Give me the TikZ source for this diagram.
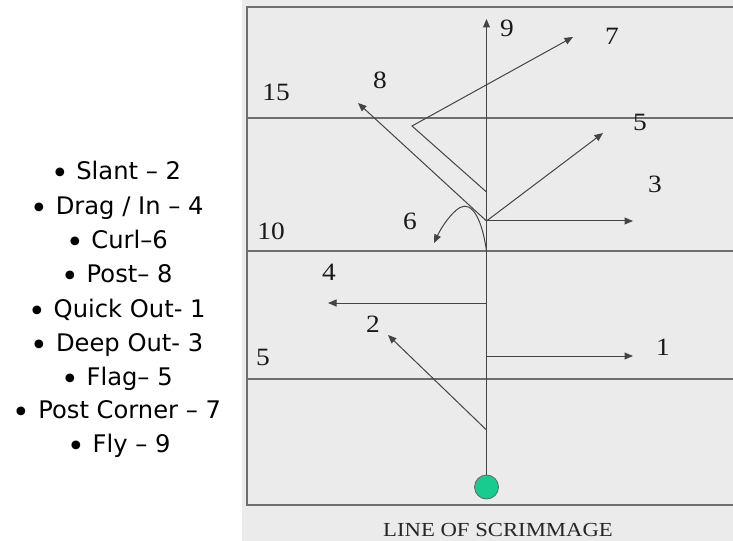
\documentclass[tikz,border=0pt]{standalone}
\usepackage{fontspec}
\setmainfont{Liberation Serif}
\newfontfamily\listfont{DejaVu Sans}
\usetikzlibrary{arrows.meta}
\definecolor{fieldbg}{HTML}{EBEBEB}
\definecolor{linegray}{HTML}{6E6E6E}
\definecolor{routegray}{HTML}{444444}
\definecolor{ballgreen}{HTML}{17CC8E}
\newcommand{\bul}{{\fontsize{30}{30}\selectfont\raisebox{-4bp}{•}}\ }
\begin{document}
\begin{tikzpicture}[x=1bp,y=-1bp,
  yard/.style={draw=linegray,line width=1.6bp},
  route/.style={draw=routegray,line width=1bp},
  arr/.style={route,-{Triangle[length=8.5bp,width=7bp]}},
  num/.style={font=\fontsize{25}{25}\selectfont,text=black!90,inner sep=0pt,xscale=1.1,transform shape},
  item/.style={font=\listfont\fontsize{24.3}{24.3}\selectfont,anchor=base,inner sep=0pt},
  ballst/.style={circle,fill=ballgreen,draw=black!60,line width=0.8bp,minimum size=24bp,inner sep=0pt}]
\useasboundingbox (0,0) rectangle (733,541);
\fill[fieldbg] (242,0) rectangle (733,541);
% field frame and yard lines
\draw[yard] (733,7) -- (247,7) -- (247,505) -- (733,505);
\draw[yard] (247,118) -- (733,118);
\draw[yard] (247,251) -- (733,251);
\draw[yard] (247,379) -- (733,379);
% yard numbers
\node[num] (y15) at (276,92) {15};
\node[num] (y10) at (271,231) {10};
\node[num] (y5) at (263,357) {5};
% ball and stem
\node[ballst] (qb) at (486.5,487) {};
\coordinate (stemtop) at (486.5,19);
\draw[arr] (qb.north) -- (stemtop);
% route coordinates
\coordinate (b2) at (486.5,430); \coordinate (t2) at (388,335);
\coordinate (b1) at (486.5,356); \coordinate (t1) at (633,356);
\coordinate (b4) at (486.5,303); \coordinate (t4) at (328,303);
\coordinate (b6) at (486.5,251); \coordinate (t6) at (434,243);
\coordinate (b3) at (486.5,221); \coordinate (t3) at (633,221);
\coordinate (t5) at (603,133);
\coordinate (t8) at (358,103);
\coordinate (b7) at (486.5,192); \coordinate (c7) at (412,126); \coordinate (t7) at (573,37);
% routes
\draw[arr] (b2) -- (t2);
\draw[arr] (b1) -- (t1);
\draw[arr] (b4) -- (t4);
\draw[arr] (b6) .. controls (482,219) and (472,201) .. (460,207.5) .. controls (452,212) and (442,226) .. (t6);
\draw[arr] (b3) -- (t3);
\draw[arr] (b3) -- (t5);
\draw[arr] (b3) -- (t8);
\draw[arr] (b7) -- (c7) -- (t7);
% route numbers
\node[num] (n9) at (507,28) {9};
\node[num] (n7) at (612,36) {7};
\node[num] (n8) at (380,80) {8};
\node[num] (n5) at (640,122) {5};
\node[num] (n3) at (655,184) {3};
\node[num] (n6) at (410,221) {6};
\node[num] (n4) at (329,272) {4};
\node[num] (n2) at (373,324) {2};
\node[num] (n1) at (663,347) {1};
\node[font=\fontsize{20}{20}\selectfont,text=black!85,inner sep=0pt,xscale=1.14,transform shape] (los) at (498,529.5) {LINE OF SCRIMMAGE};
% legend
\node[item] (l1) at (116,180) {\bul Slant – 2};
\node[item] (l2) at (117,215) {\bul Drag / In – 4};
\node[item] (l3) at (117,249) {\bul Curl–6};
\node[item] (l4) at (117,283) {\bul Post– 8};
\node[item] (l5) at (117,317) {\bul Quick Out- 1};
\node[item] (l6) at (117,351) {\bul Deep Out- 3};
\node[item] (l7) at (117,385) {\bul Flag– 5};
\node[item] (l8) at (117,418) {\bul Post Corner – 7};
\node[item] (l9) at (119,452) {\bul Fly – 9};
\end{tikzpicture}
\end{document}
